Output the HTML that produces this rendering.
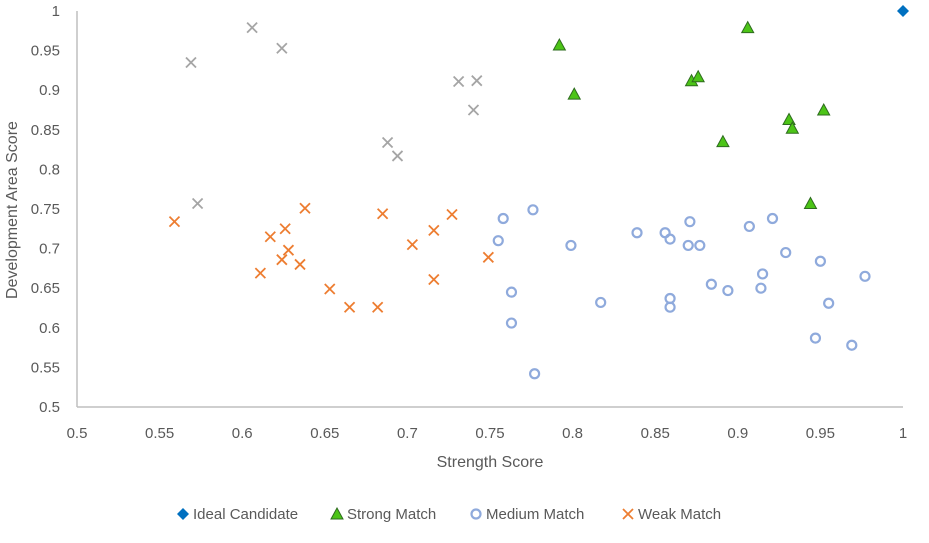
<!DOCTYPE html>
<html><head><meta charset="utf-8"><style>
body{margin:0;background:#fff;}
svg{display:block;font-family:"Liberation Sans",sans-serif;}
</style></head><body>
<svg id="chart" width="929" height="543"></svg>
<script>
const xTicks=[0.5,0.55,0.6,0.65,0.7,0.75,0.8,0.85,0.9,0.95,1];
const yTicks=[0.5,0.55,0.6,0.65,0.7,0.75,0.8,0.85,0.9,0.95,1];
const idealX=[1];
const idealY=[1];
const strongX=[0.792,0.906,0.801,0.872,0.876,0.931,0.933,0.952,0.891,0.944];
const strongY=[0.957,0.979,0.895,0.912,0.917,0.863,0.852,0.875,0.835,0.757];
const mediumX=[0.758,0.776,0.755,0.799,0.763,0.763,0.777,0.817,0.839,0.856,0.859,0.871,0.870,0.877,0.859,0.859,0.884,0.894,0.907,0.921,0.915,0.914,0.929,0.950,0.977,0.955,0.947,0.969];
const mediumY=[0.738,0.749,0.710,0.704,0.645,0.606,0.542,0.632,0.720,0.720,0.712,0.734,0.704,0.704,0.637,0.626,0.655,0.647,0.728,0.738,0.668,0.650,0.695,0.684,0.665,0.631,0.587,0.578];
const weakX=[0.559,0.611,0.617,0.626,0.628,0.624,0.635,0.638,0.653,0.665,0.682,0.685,0.703,0.716,0.716,0.727,0.749];
const weakY=[0.734,0.669,0.715,0.725,0.698,0.686,0.680,0.751,0.649,0.626,0.626,0.744,0.705,0.723,0.661,0.743,0.689];
const otherX=[0.606,0.624,0.569,0.731,0.742,0.740,0.688,0.694,0.573];
const otherY=[0.979,0.953,0.935,0.911,0.912,0.875,0.834,0.817,0.757];

const svg=document.getElementById('chart');
const NS='http://www.w3.org/2000/svg';
const X0=77,X1=903,Y0=407,Y1=11;
const sx=v=>X0+(v-0.5)/0.5*(X1-X0);
const sy=v=>Y0-(v-0.5)/0.5*(Y0-Y1);
function mk(tag,attrs,parent){const e=document.createElementNS(NS,tag);for(const k in attrs)e.setAttribute(k,attrs[k]);(parent||svg).appendChild(e);return e;}

const axX=mk('line',{x1:X0,y1:Y0,x2:X1,y2:Y0,stroke:'#bfbfbf','stroke-width':1.5});


const axY=mk('line',{x1:X0,y1:Y0,x2:X0,y2:Y1,stroke:'#bfbfbf','stroke-width':1.5});



xTicks.forEach(t=>{const e=mk('text',{x:sx(t),y:438,'text-anchor':'middle','font-size':15,fill:'#595959'});e.textContent=String(t);

});
yTicks.forEach(t=>{const e=mk('text',{x:60,y:sy(t)+5,'text-anchor':'end','font-size':15,fill:'#595959'});e.textContent=String(t);

});

const xt=mk('text',{x:490,y:467,'text-anchor':'middle','font-size':16,fill:'#595959'});xt.textContent='Strength Score';


const yt=mk('text',{x:0,y:0,'text-anchor':'middle','font-size':16,fill:'#595959',transform:'translate(17,210) rotate(-90)'});yt.textContent='Development Area Score';



function diamond(x,y){return mk('polygon',{points:`${x},${y-6} ${x+6},${y} ${x},${y+6} ${x-6},${y}`,fill:'#0070C0'});}
function tri(x,y){return mk('polygon',{points:`${x},${y-6} ${x+6},${y+5} ${x-6},${y+5}`,fill:'#4CC417',stroke:'#2E6B1F','stroke-width':1});}
function circ(x,y){return mk('circle',{cx:x,cy:y,r:4.5,fill:'none',stroke:'#8FAADC','stroke-width':2.2});}
function cross(x,y,c){const g=mk('g',{stroke:c,'stroke-width':1.8});mk('line',{x1:x-5,y1:y-5,x2:x+5,y2:y+5},g);mk('line',{x1:x-5,y1:y+5,x2:x+5,y2:y-5},g);return g;}

otherX.forEach((v,i)=>{const e=cross(sx(v),sy(otherY[i]),'#A5A5A5');

});
weakX.forEach((v,i)=>{const e=cross(sx(v),sy(weakY[i]),'#ED7D31');

});
mediumX.forEach((v,i)=>{const e=circ(sx(v),sy(mediumY[i]));

});
strongX.forEach((v,i)=>{const e=tri(sx(v),sy(strongY[i]));

});
idealX.forEach((v,i)=>{const e=diamond(sx(v),sy(idealY[i]));

});

const lg=[['Ideal Candidate',183,diamond],['Strong Match',337,tri],['Medium Match',476,circ],['Weak Match',628,(x,y)=>cross(x,y,'#ED7D31')]];
lg.forEach(([t,x,f])=>{const m=f(x,514);


const e=mk('text',{x:x+10,y:519,'font-size':15,fill:'#595959'});e.textContent=t;

});
</script>
</body></html>
